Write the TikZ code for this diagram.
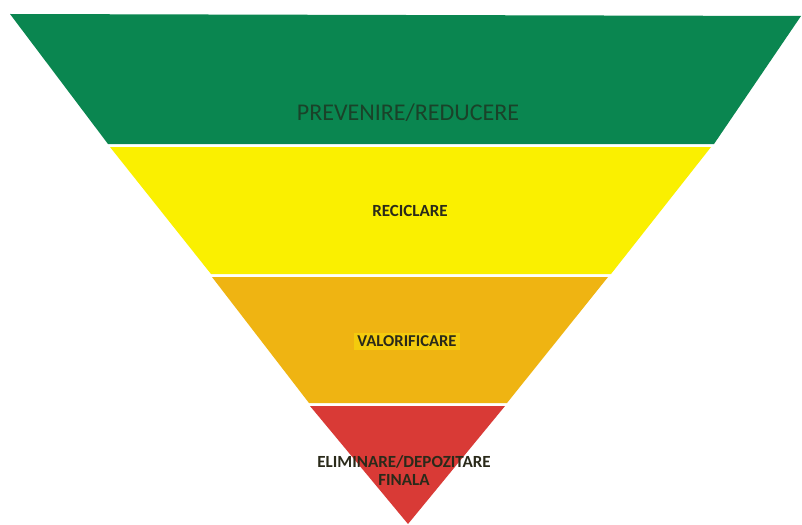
\documentclass[tikz,border=0pt]{standalone}
\usepackage{fontspec}
\setmainfont{Carlito}
\definecolor{bandgreen}{HTML}{0A8650}
\definecolor{bandyellow}{HTML}{FAF000}
\definecolor{bandorange}{HTML}{EFB412}
\definecolor{bandred}{HTML}{D93A36}
\definecolor{txtgreen}{HTML}{1A4229}
\definecolor{txtdark}{HTML}{2A2A1A}
\tikzset{
  band/.style={draw=none},
  lbl/.style={font=\fontsize{17}{19}\selectfont\bfseries, text=txtdark, align=center, inner sep=1pt}
}
\begin{document}
\begin{tikzpicture}[x=1pt,y=-1pt]
\useasboundingbox (0,0) rectangle (802,524);
\fill[white] (0,0) rectangle (802,524);
% bands
\fill[band, bandgreen]  (10,14) -- (801,16) -- (714,144) -- (108,144) -- cycle;
\fill[band, bandyellow] (110,147) -- (711,147) -- (611,274) -- (211,274) -- cycle;
\fill[band, bandorange] (212,277) -- (608,277) -- (507,403) -- (309,403) -- cycle;
\fill[band, bandred]    (310,406) -- (505,406) -- (408,524) -- cycle;
% labels
\node[font=\fontsize{24}{27}\selectfont, text=txtgreen, inner sep=1pt] (prev) at (408,113) {PREVENIRE/REDUCERE};
\node[lbl] (recic) at (410,211) {RECICLARE};
\node[lbl, font=\fontsize{16.6}{19}\selectfont\bfseries, fill=bandorange!70!yellow, inner sep=3pt] (valor) at (407,341) {VALORIFICARE};
\node[lbl, font=\fontsize{17}{18}\selectfont\bfseries] (elim) at (404,471) {ELIMINARE/DEPOZITARE\\FINALA};
\end{tikzpicture}
\end{document}
